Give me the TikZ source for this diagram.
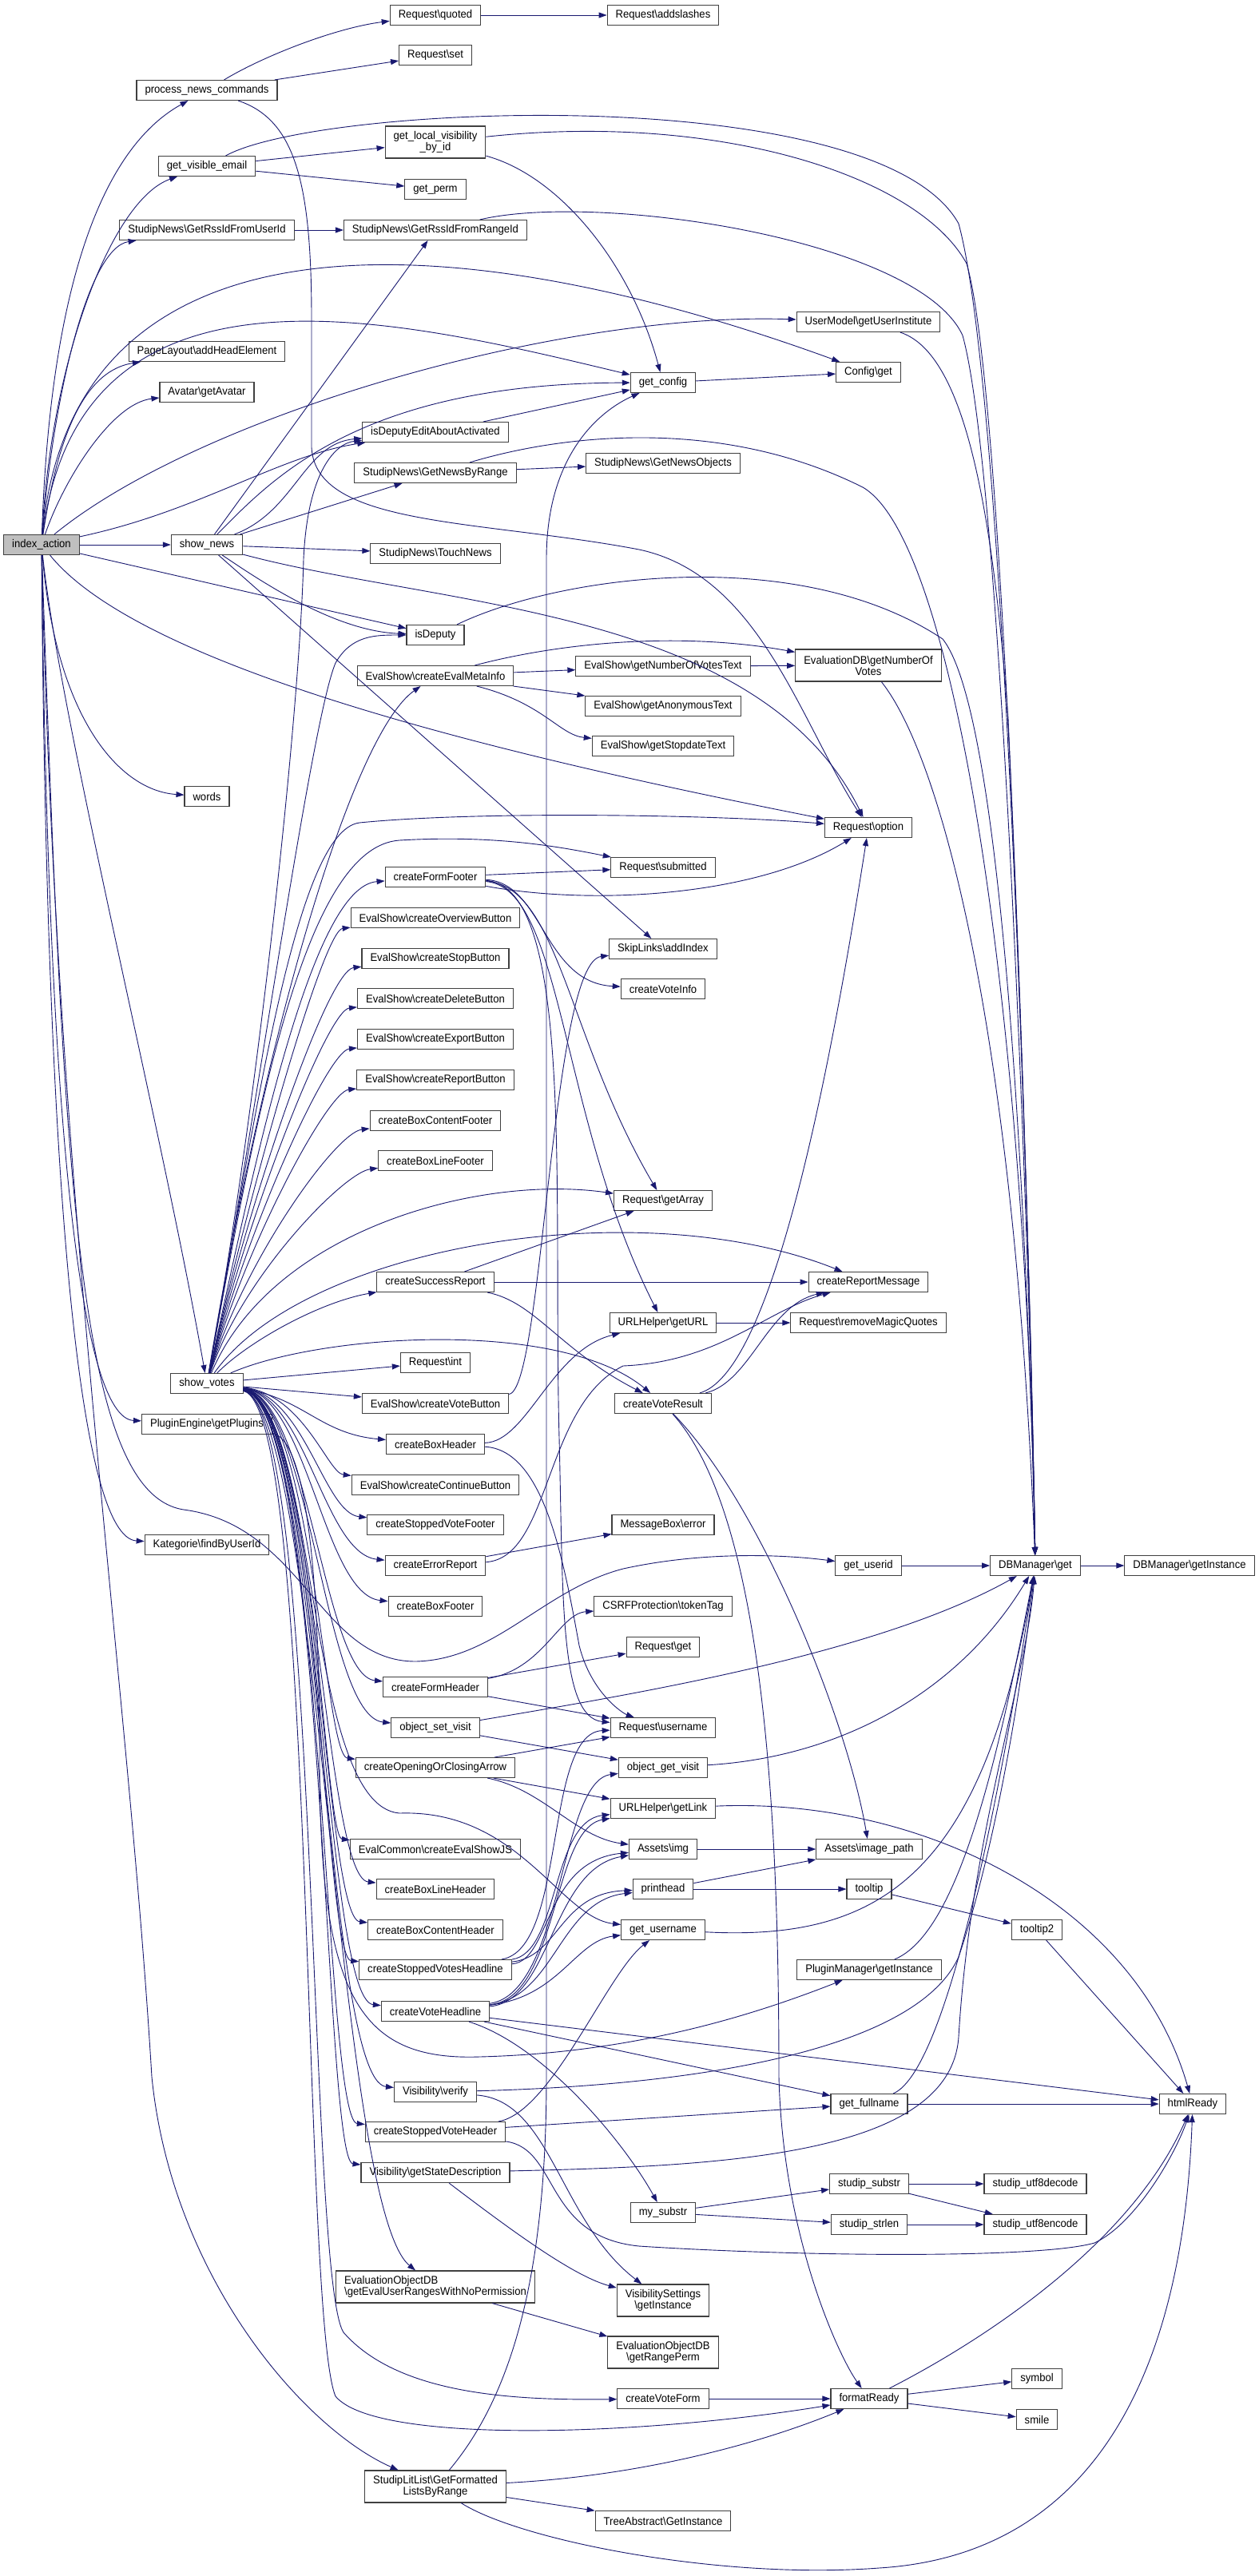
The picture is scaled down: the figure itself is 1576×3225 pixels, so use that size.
\documentclass[tikz,border=0pt]{standalone}
\usepackage{fontspec}
\setmainfont[FakeStretch=0.935]{Liberation Sans}
\usetikzlibrary{arrows.meta}
\definecolor{edgeblue}{HTML}{191970}
\newcommand{\nspc}{\textbackslash}
\begin{document}
\begin{tikzpicture}[x=1pt, y=-1pt,
    fn/.style={draw=black!75, line width=1.1pt, fill=white, rectangle, font=\fontsize{14}{14}\selectfont, inner xsep=10.5pt, inner ysep=2pt, minimum height=25pt},
    fn2/.style={fn, align=center, minimum height=40pt},
    call/.style={draw=edgeblue, line width=0.9pt, -{Triangle[length=10pt,width=7pt]}}]
    \path[use as bounding box, fill=white] (0,0) rectangle (1576,3225);

    \node[fn, fill=black!25] (ia)  at (52,682)   {index\_action};
    \node[fn] (pnc)     at (259,113)  {process\_news\_commands};
    \node[fn] (gve)     at (259,208)  {get\_visible\_email};
    \node[fn] (rssU)    at (259,288)  {StudipNews\nspc GetRssIdFromUserId};
    \node[fn] (phe)     at (259,440)  {PageLayout\nspc addHeadElement};
    \node[fn] (ava)     at (259,491)  {Avatar\nspc getAvatar};
    \node[fn] (sn)      at (259,682)  {show\_news};
    \node[fn] (words)   at (259,997)  {words};
    \node[fn] (sv)      at (259,1732) {show\_votes};
    \node[fn] (pgp)     at (259,1783) {PluginEngine\nspc getPlugins};
    \node[fn] (kat)     at (259,1934) {Kategorie\nspc findByUserId};

    \node[fn] (rq)      at (545,19)   {Request\nspc quoted};
    \node[fn] (rset)    at (545,69)   {Request\nspc set};
    \node[fn2] (glv)    at (545,178)  {get\_local\_visibility\\\_by\_id};
    \node[fn] (gperm)   at (545,237)  {get\_perm};
    \node[fn] (rssR)    at (545,288)  {StudipNews\nspc GetRssIdFromRangeId};
    \node[fn] (deae)    at (545,541)  {isDeputyEditAboutActivated};
    \node[fn] (gnbr)    at (545,592)  {StudipNews\nspc GetNewsByRange};
    \node[fn] (touch)   at (545,693)  {StudipNews\nspc TouchNews};
    \node[fn] (isdep)   at (545,795)  {isDeputy};
    \node[fn] (cemi)    at (545,846)  {EvalShow\nspc createEvalMetaInfo};
    \node[fn] (cff)     at (545,1098) {createFormFooter};
    \node[fn] (cob)     at (545,1149) {EvalShow\nspc createOverviewButton};
    \node[fn] (csb)     at (545,1200) {EvalShow\nspc createStopButton};
    \node[fn] (cdb)     at (545,1250) {EvalShow\nspc createDeleteButton};
    \node[fn] (ceb)     at (545,1301) {EvalShow\nspc createExportButton};
    \node[fn] (crb)     at (545,1352) {EvalShow\nspc createReportButton};
    \node[fn] (cbcf)    at (545,1403) {createBoxContentFooter};
    \node[fn] (cblf)    at (545,1453) {createBoxLineFooter};
    \node[fn] (csr)     at (545,1605) {createSuccessReport};
    \node[fn] (rint)    at (545,1706) {Request\nspc int};
    \node[fn] (cvb)     at (545,1757) {EvalShow\nspc createVoteButton};
    \node[fn] (cbh)     at (545,1808) {createBoxHeader};
    \node[fn] (ccb)     at (545,1859) {EvalShow\nspc createContinueButton};
    \node[fn] (csvf)    at (545,1909) {createStoppedVoteFooter};
    \node[fn] (cer)     at (545,1960) {createErrorReport};
    \node[fn] (cbf)     at (545,2011) {createBoxFooter};
    \node[fn] (cfh)     at (545,2112) {createFormHeader};
    \node[fn] (osv)     at (545,2163) {object\_set\_visit};
    \node[fn] (cooa)    at (545,2213) {createOpeningOrClosingArrow};
    \node[fn] (cesj)    at (545,2315) {EvalCommon\nspc createEvalShowJS};
    \node[fn] (cblh)    at (545,2365) {createBoxLineHeader};
    \node[fn] (cbch)    at (545,2416) {createBoxContentHeader};
    \node[fn] (csvhl)   at (545,2466) {createStoppedVotesHeadline};
    \node[fn] (cvhl)    at (545,2518) {createVoteHeadline};
    \node[fn] (vverify) at (545,2619) {Visibility\nspc verify};
    \node[fn] (csvh)    at (545,2669) {createStoppedVoteHeader};
    \node[fn] (vgsd)    at (545,2720) {Visibility\nspc getStateDescription};
    \node[fn2, align=left] (eodbN) at (545,2863) {EvaluationObjectDB\\\nspc getEvalUserRangesWithNoPermission};
    \node[fn2] (sllist) at (545,3113) {StudipLitList\nspc GetFormatted\\ListsByRange};

    \node[fn] (ras)     at (830,19)   {Request\nspc addslashes};
    \node[fn] (gcfg)    at (830,479)  {get\_config};
    \node[fn] (gno)     at (830,580)  {StudipNews\nspc GetNewsObjects};
    \node[fn] (gnvt)    at (830,834)  {EvalShow\nspc getNumberOfVotesText};
    \node[fn] (gat)     at (830,884)  {EvalShow\nspc getAnonymousText};
    \node[fn] (gst)     at (830,934)  {EvalShow\nspc getStopdateText};
    \node[fn] (rsub)    at (830,1086) {Request\nspc submitted};
    \node[fn] (skip)    at (830,1188) {SkipLinks\nspc addIndex};
    \node[fn] (cvi)     at (830,1238) {createVoteInfo};
    \node[fn] (rga)     at (830,1503) {Request\nspc getArray};
    \node[fn] (urlget)  at (830,1656) {URLHelper\nspc getURL};
    \node[fn] (cvr)     at (830,1757) {createVoteResult};
    \node[fn] (mbe)     at (830,1909) {MessageBox\nspc error};
    \node[fn] (csrf)    at (830,2011) {CSRFProtection\nspc tokenTag};
    \node[fn] (rget)    at (830,2062) {Request\nspc get};
    \node[fn] (runame)  at (830,2163) {Request\nspc username};
    \node[fn] (ogv)     at (830,2213) {object\_get\_visit};
    \node[fn] (urllink) at (830,2264) {URLHelper\nspc getLink};
    \node[fn] (aimg)    at (830,2315) {Assets\nspc img};
    \node[fn] (phead)   at (830,2365) {printhead};
    \node[fn] (guname)  at (830,2416) {get\_username};
    \node[fn] (mysub)   at (830,2770) {my\_substr};
    \node[fn2] (vsgi)   at (830,2880) {VisibilitySettings\\\nspc getInstance};
    \node[fn2] (eodbR)  at (830,2945) {EvaluationObjectDB\\\nspc getRangePerm};
    \node[fn] (cvf)     at (830,3003) {createVoteForm};
    \node[fn] (tai)     at (830,3156) {TreeAbstract\nspc GetInstance};

    \node[fn] (umgi)    at (1087,403)  {UserModel\nspc getUserInstitute};
    \node[fn] (cget)    at (1087,466)  {Config\nspc get};
    \node[fn2] (endb)   at (1087,833)  {EvaluationDB\nspc getNumberOf\\Votes};
    \node[fn] (ropt)    at (1087,1036) {Request\nspc option};
    \node[fn] (crm)     at (1087,1605) {createReportMessage};
    \node[fn] (rrmq)    at (1087,1656) {Request\nspc removeMagicQuotes};
    \node[fn] (guid)    at (1087,1960) {get\_userid};
    \node[fn] (aip)     at (1088,2315) {Assets\nspc image\_path};
    \node[fn] (tt)      at (1088,2365) {tooltip};
    \node[fn] (pmgi)    at (1088,2466) {PluginManager\nspc getInstance};
    \node[fn] (gfn)     at (1088,2634) {get\_fullname};
    \node[fn] (ssub)    at (1088,2734) {studip\_substr};
    \node[fn] (sstrlen) at (1088,2785) {studip\_strlen};
    \node[fn] (fready)  at (1088,3003) {formatReady};

    \node[fn] (dbget)   at (1296,1960) {DBManager\nspc get};
    \node[fn] (tt2)     at (1298,2416) {tooltip2};
    \node[fn] (sdec)    at (1296,2734) {studip\_utf8decode};
    \node[fn] (senc)    at (1296,2785) {studip\_utf8encode};
    \node[fn] (sym)     at (1298,2978) {symbol};
    \node[fn] (smile)   at (1298,3029) {smile};

    \node[fn] (dbgi)    at (1489,1960) {DBManager\nspc getInstance};
    \node[fn] (html)    at (1493,2634) {htmlReady};

    \draw[call] (ia) .. controls (62,380) and (120,190) .. (pnc);
    \draw[call] (ia) .. controls (64,450) and (140,250) .. (gve);
    \draw[call] (ia) .. controls (66,500) and (110,310) .. (rssU);
    \draw[call] (ia) .. controls (70,560) and (100,465) .. (phe);
    \draw[call] (ia) .. controls (80,600) and (140,505) .. (ava);
    \draw[call] (ia) .. controls (100,300) and (500,400) .. (gcfg);
    \draw[call] (ia) .. controls (90,260) and (550,270) .. (cget);
    \draw[call] (ia) .. controls (250,520) and (700,390) .. (umgi);
    \draw[call] (ia) .. controls (250,640) and (350,570) .. (deae);
    \draw[call] (ia) -- (sn);
    \draw[call] (ia) -- (isdep);
    \draw[call] (ia) .. controls (180,840) and (650,950) .. (ropt);
    \draw[call] (ia) .. controls (70,900) and (150,990) .. (words);
    \draw[call] (ia) .. controls (75,900) and (200,1400) .. (sv);
    \draw[call] (ia) .. controls (60,1400) and (100,1775) .. (pgp);
    \draw[call] (ia) .. controls (58,1500) and (100,1925) .. (kat);
    \draw[call] (ia) .. controls (70,1500) and (160,2100) .. (190,2600) .. controls (215,2850) and (380,3040) .. (sllist);
    \draw[call] (ia) .. controls (80,1500) and (100,1870) .. (230,1890) .. controls (380,1910) and (400,2080) .. (520,2080) .. controls (620,2078) and (680,1990) .. (780,1964) .. controls (880,1942) and (980,1946) .. (guid);

    \draw[call] (pnc) .. controls (330,70) and (420,35) .. (rq);
    \draw[call] (pnc) -- (rset);
    \draw[call] (pnc) .. controls (370,150) and (390,230) .. (390,400) -- (390,560) .. controls (395,660) and (600,650) .. (800,688) .. controls (950,720) and (1000,900) .. (ropt);
    \draw[call] (rq) -- (ras);
    \draw[call] (gve) -- (glv);
    \draw[call] (gve) -- (gperm);
    \draw[call] (gve) .. controls (400,130) and (1100,100) .. (1200,280) .. controls (1260,500) and (1290,1600) .. (dbget);
    \draw[call] (glv) .. controls (900,140) and (1150,220) .. (1210,330) .. controls (1260,500) and (1290,1600) .. (dbget);
    \draw[call] (glv) .. controls (700,220) and (790,330) .. (gcfg);
    \draw[call] (rssU) -- (rssR);
    \draw[call] (rssR) .. controls (750,240) and (1150,300) .. (1205,420) .. controls (1255,600) and (1290,1600) .. (dbget);
    \draw[call] (umgi) .. controls (1200,440) and (1240,600) .. (1262,900) .. controls (1280,1300) and (1292,1700) .. (dbget);
    \draw[call] (gcfg) -- (cget);
    \draw[call] (deae) -- (gcfg);

    \draw[call] (sn) -- (rssR);
    \draw[call] (sn) .. controls (340,600) and (450,480) .. (gcfg);
    \draw[call] (sn) .. controls (370,640) and (380,555) .. (deae);
    \draw[call] (sn) -- (gnbr);
    \draw[call] (sn) -- (touch);
    \draw[call] (sn) .. controls (330,730) and (420,790) .. (isdep);
    \draw[call] (sn) .. controls (550,760) and (950,760) .. (ropt);
    \draw[call] (sn) -- (skip);
    \draw[call] (gnbr) -- (gno);
    \draw[call] (gnbr) .. controls (700,545) and (900,520) .. (1080,610) .. controls (1200,680) and (1285,1300) .. (dbget);
    \draw[call] (isdep) .. controls (700,720) and (1000,680) .. (1180,800) .. controls (1260,900) and (1288,1600) .. (dbget);

    \draw[call] (cemi) .. controls (700,805) and (850,790) .. (endb);
    \draw[call] (cemi) -- (gnvt);
    \draw[call] (cemi) -- (gat);
    \draw[call] (cemi) .. controls (680,880) and (700,920) .. (gst);
    \draw[call] (gnvt) -- (endb);
    \draw[call] (endb) .. controls (1180,950) and (1270,1300) .. (dbget);

    \draw[call] (cff) -- (rsub);
    \draw[call] (cff) .. controls (750,1135) and (950,1120) .. (ropt);
    \draw[call] (cff) .. controls (680,1105) and (680,1230) .. (cvi);
    \draw[call] (cff) .. controls (700,1110) and (710,1300) .. (rga);
    \draw[call] (cff) .. controls (705,1112) and (700,1400) .. (urlget);
    \draw[call] (cff) .. controls (720,1110) and (692,1500) .. (700,1800) .. controls (705,2000) and (700,2150) .. (runame);
    \draw[call] (csr) -- (crm);
    \draw[call] (csr) -- (rga);
    \draw[call] (csr) .. controls (670,1630) and (700,1690) .. (cvr);
    \draw[call] (cvb) .. controls (680,1740) and (690,1205) .. (skip);
    \draw[call] (cbh) .. controls (660,1805) and (690,1690) .. (urlget);
    \draw[call] (cbh) .. controls (680,1815) and (705,1950) .. (725,2060) .. controls (740,2120) and (780,2145) .. (runame);
    \draw[call] (cer) -- (mbe);
    \draw[call] (cer) .. controls (690,1950) and (680,1760) .. (780,1710) .. controls (900,1705) and (960,1640) .. (crm);
    \draw[call] (cfh) .. controls (680,2090) and (700,2020) .. (csrf);
    \draw[call] (cfh) -- (rget);
    \draw[call] (cfh) -- (runame);
    \draw[call] (osv) -- (ogv);
    \draw[call] (osv) .. controls (800,2120) and (1100,2070) .. (dbget);
    \draw[call] (cooa) -- (runame);
    \draw[call] (cooa) -- (urllink);
    \draw[call] (cooa) .. controls (680,2240) and (720,2300) .. (aimg);
    \draw[call] (csvhl) .. controls (690,2455) and (680,2330) .. (aimg);
    \draw[call] (csvhl) .. controls (700,2450) and (700,2370) .. (phead);
    \draw[call] (csvhl) .. controls (700,2445) and (690,2280) .. (urllink);
    \draw[call] (csvhl) .. controls (710,2440) and (680,2170) .. (runame);
    \draw[call] (cvhl) .. controls (690,2505) and (690,2340) .. (aimg);
    \draw[call] (cvhl) .. controls (695,2500) and (700,2380) .. (phead);
    \draw[call] (cvhl) .. controls (700,2500) and (720,2430) .. (guname);
    \draw[call] (cvhl) .. controls (705,2495) and (700,2230) .. (ogv);
    \draw[call] (cvhl) .. controls (700,2500) and (690,2290) .. (urllink);
    \draw[call] (cvhl) -- (html);
    \draw[call] (cvhl) -- (gfn);
    \draw[call] (cvhl) .. controls (680,2560) and (780,2680) .. (mysub);
    \draw[call] (vverify) .. controls (900,2610) and (1150,2560) .. (1200,2450) .. controls (1250,2300) and (1280,2100) .. (dbget);
    \draw[call] (vverify) .. controls (690,2630) and (700,2780) .. (vsgi);
    \draw[call] (csvh) -- (gfn);
    \draw[call] (csvh) .. controls (700,2690) and (680,2800) .. (800,2812) .. controls (1000,2825) and (1300,2828) .. (1370,2808) .. controls (1420,2785) and (1470,2700) .. (html);
    \draw[call] (csvh) .. controls (690,2645) and (760,2470) .. (guname);
    \draw[call] (vgsd) .. controls (900,2712) and (1190,2700) .. (1200,2550) .. controls (1215,2300) and (1285,2100) .. (dbget);
    \draw[call] (vgsd) .. controls (650,2800) and (720,2850) .. (vsgi);
    \draw[call] (eodbN) -- (eodbR);
    \draw[call] (sllist) -- (tai);
    \draw[call] (sllist) .. controls (640,3000) and (684,2850) .. (684,2600) -- (684,700) .. controls (684,560) and (760,510) .. (gcfg);
    \draw[call] (sllist) .. controls (800,3100) and (950,3060) .. (fready);
    \draw[call] (sllist) .. controls (650,3180) and (900,3230) .. (1100,3215) .. controls (1350,3200) and (1480,3000) .. (html);
    \draw[call] (pgp) .. controls (380,1800) and (400,1950) .. (400,2200) .. controls (400,2500) and (450,2580) .. (600,2575) .. controls (800,2570) and (950,2520) .. (pmgi);

    \draw[call] (cvr) .. controls (960,1720) and (1030,1400) .. (ropt);
    \draw[call] (cvr) .. controls (940,1730) and (960,1635) .. (crm);
    \draw[call] (cvr) .. controls (960,1900) and (975,2300) .. (975,2600) .. controls (980,2800) and (1050,2950) .. (fready);
    \draw[call] (cvr) .. controls (950,1880) and (1060,2150) .. (aip);
    \draw[call] (urlget) -- (rrmq);
    \draw[call] (guid) -- (dbget);
    \draw[call] (dbget) -- (dbgi);
    \draw[call] (ogv) .. controls (1050,2200) and (1200,2120) .. (dbget);
    \draw[call] (guname) .. controls (1100,2430) and (1230,2350) .. (dbget);
    \draw[call] (pmgi) .. controls (1200,2420) and (1250,2200) .. (dbget);
    \draw[call] (gfn) .. controls (1190,2590) and (1260,2200) .. (dbget);
    \draw[call] (urllink) .. controls (1150,2250) and (1420,2380) .. (html);
    \draw[call] (aimg) -- (aip);
    \draw[call] (phead) -- (aip);
    \draw[call] (phead) -- (tt);
    \draw[call] (tt) -- (tt2);
    \draw[call] (tt2) -- (html);
    \draw[call] (gfn) -- (html);
    \draw[call] (mysub) -- (ssub);
    \draw[call] (mysub) -- (sstrlen);
    \draw[call] (ssub) -- (sdec);
    \draw[call] (ssub) -- (senc);
    \draw[call] (sstrlen) -- (senc);
    \draw[call] (cvf) -- (fready);
    \draw[call] (fready) .. controls (1250,2920) and (1420,2800) .. (html);
    \draw[call] (fready) -- (sym);
    \draw[call] (fready) -- (smile);

    \draw[call] (sv) .. controls (320,1400) and (375,900) .. (380,700) .. controls (385,590) and (420,555) .. (deae);
    \draw[call] (sv) .. controls (320,1400) and (390,900) .. (420,830) .. controls (440,795) and (470,795) .. (isdep);
    \draw[call] (sv) .. controls (330,1300) and (440,920) .. (cemi);
    \draw[call] (sv) .. controls (320,1400) and (380,1060) .. (500,1052) .. controls (620,1045) and (700,1060) .. (rsub);
    \draw[call] (sv) .. controls (320,1400) and (370,1040) .. (450,1030) .. controls (600,1015) and (900,1020) .. (ropt);
    \draw[call] (sv) .. controls (320,1450) and (390,1110) .. (cff);
    \draw[call] (sv) .. controls (315,1480) and (405,1165) .. (cob);
    \draw[call] (sv) .. controls (312,1500) and (410,1215) .. (csb);
    \draw[call] (sv) .. controls (310,1520) and (410,1265) .. (cdb);
    \draw[call] (sv) .. controls (308,1540) and (410,1316) .. (ceb);
    \draw[call] (sv) .. controls (306,1560) and (410,1367) .. (crb);
    \draw[call] (sv) .. controls (304,1580) and (420,1418) .. (cbcf);
    \draw[call] (sv) .. controls (302,1600) and (430,1468) .. (cblf);
    \draw[call] (sv) .. controls (340,1540) and (600,1470) .. (rga);
    \draw[call] (sv) .. controls (380,1560) and (800,1490) .. (crm);
    \draw[call] (sv) .. controls (310,1680) and (400,1630) .. (csr);
    \draw[call] (sv) -- (rint);
    \draw[call] (sv) -- (cvb);
    \draw[call] (sv) .. controls (400,1670) and (700,1650) .. (cvr);
    \draw[call] (sv) .. controls (380,1750) and (400,1795) .. (cbh);
    \draw[call] (sv) .. controls (380,1745) and (410,1844) .. (ccb);
    \draw[call] (sv) .. controls (382,1746) and (405,1894) .. (csvf);
    \draw[call] (sv) .. controls (384,1747) and (405,1945) .. (cer);
    \draw[call] (sv) .. controls (386,1748) and (405,1996) .. (cbf);
    \draw[call] (sv) .. controls (388,1749) and (405,2097) .. (cfh);
    \draw[call] (sv) .. controls (390,1750) and (405,2148) .. (osv);
    \draw[call] (sv) .. controls (392,1751) and (405,2198) .. (cooa);
    \draw[call] (sv) .. controls (394,1752) and (405,2300) .. (cesj);
    \draw[call] (sv) .. controls (396,1753) and (405,2350) .. (cblh);
    \draw[call] (sv) .. controls (398,1754) and (405,2401) .. (cbch);
    \draw[call] (sv) .. controls (400,1755) and (405,2451) .. (csvhl);
    \draw[call] (sv) .. controls (402,1756) and (405,2503) .. (cvhl);
    \draw[call] (sv) .. controls (404,1757) and (405,2604) .. (vverify);
    \draw[call] (sv) .. controls (406,1758) and (405,2654) .. (csvh);
    \draw[call] (sv) .. controls (408,1759) and (405,2705) .. (vgsd);
    \draw[call] (sv) .. controls (400,1760) and (420,2760) .. (eodbN);
    \draw[call] (sv) .. controls (400,1760) and (385,2850) .. (430,2920) .. controls (500,3000) and (650,3005) .. (cvf);
    \draw[call] (sv) .. controls (395,1760) and (378,2900) .. (420,3000) .. controls (470,3060) and (800,3050) .. (fready);
    \draw[call] (sv) .. controls (400,1760) and (380,2260) .. (500,2270) .. controls (650,2265) and (700,2400) .. (guname);
\end{tikzpicture}
\end{document}
